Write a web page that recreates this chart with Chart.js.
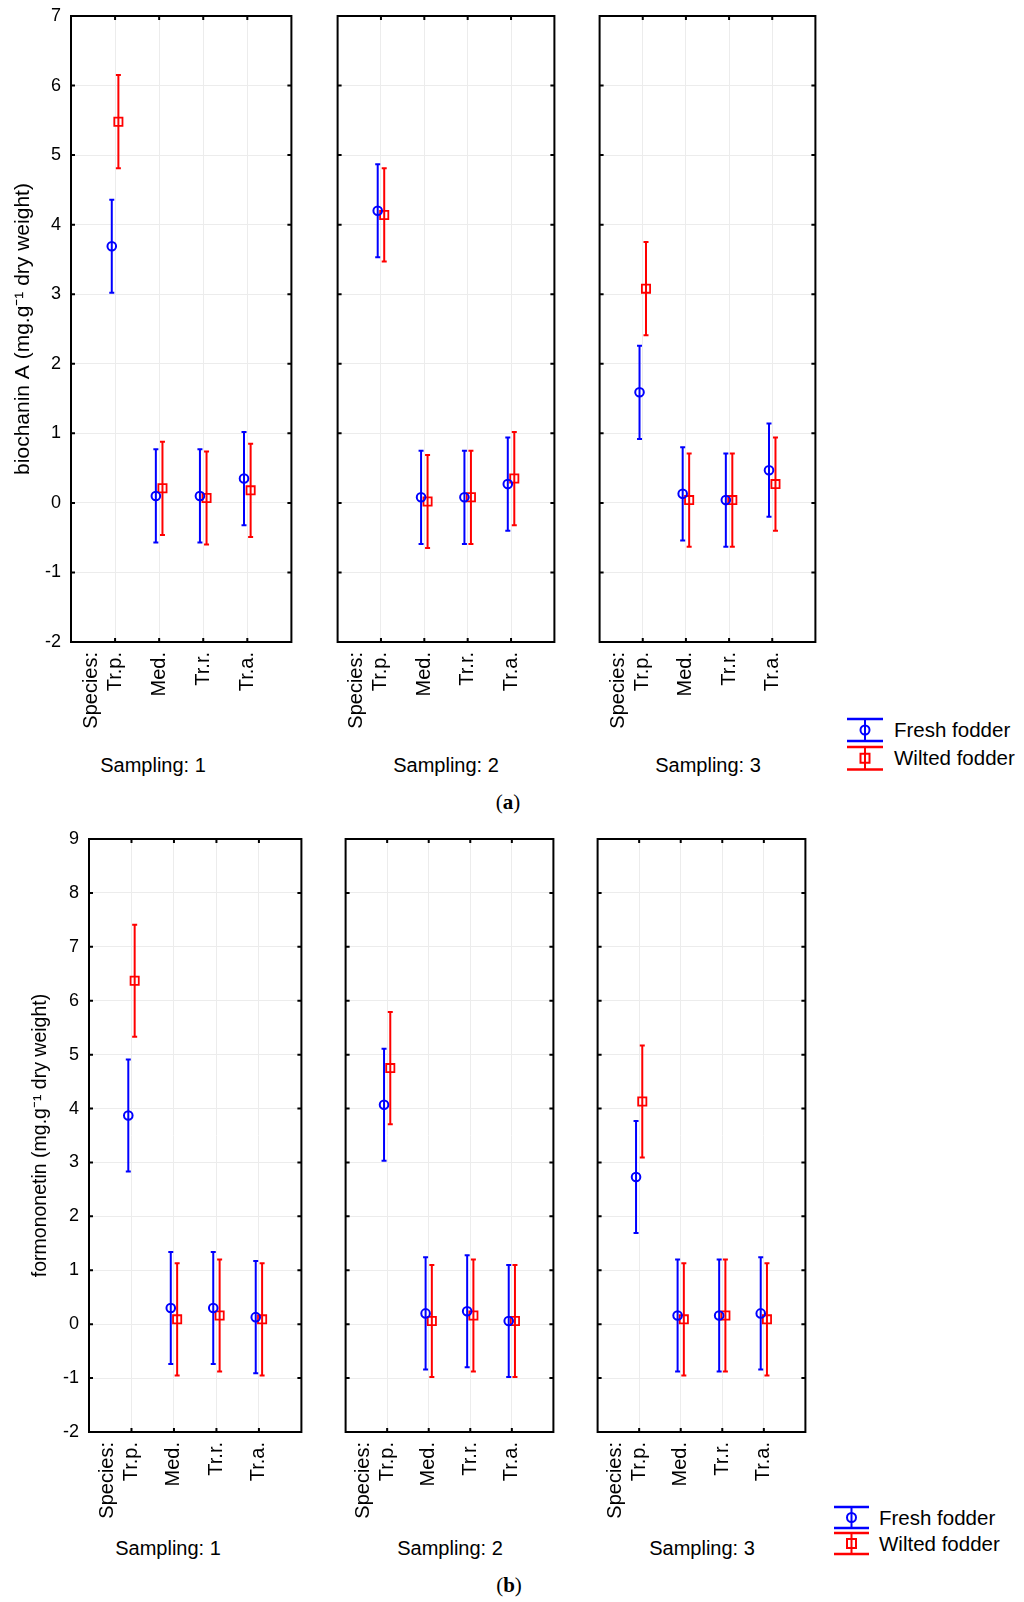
<!DOCTYPE html>
<html>
<head>
<meta charset="utf-8">
<script src="https://cdn.jsdelivr.net/npm/chart.js@4.4.0/dist/chart.umd.min.js"></script>
<style>
  body { margin: 0; background: #fff; }
  #fig { position: relative; width: 1024px; height: 1602px; background: #fff; overflow: hidden;
         font-family: "Liberation Sans", Arial, sans-serif; color: #000; }
  #fig canvas { position: absolute; }
  .lbl { position: absolute; font-size: 20px; white-space: nowrap; transform: translate(-50%, -50%); }
  .cap { position: absolute; font-family: "Liberation Serif", "Times New Roman", serif; font-size: 21px;
         white-space: nowrap; transform: translate(-50%, -50%); }
  .legtxt { position: absolute; font-size: 20.5px; line-height: 24px; white-space: nowrap; }
  .legico { position: absolute; }
</style>
</head>
<body>
<div id="fig"></div>
<script>
// categories
const species = ['Tr.p.', 'Med.', 'Tr.r.', 'Tr.a.'];
const speciesPos = [1, 2, 3, 4];
const speciesTitle = 'Species:';
const samplingNames = ['Sampling: 1', 'Sampling: 2', 'Sampling: 3'];
const seriesNames = ['Fresh fodder', 'Wilted fodder'];

// (a) biochanin A, means per species, one array per sampling
const bioFresh1 = [3.69, 0.10, 0.10, 0.35];
const bioWilted1 = [5.48, 0.21, 0.07, 0.18];
const bioFresh2 = [4.20, 0.08, 0.08, 0.27];
const bioWilted2 = [4.14, 0.02, 0.08, 0.35];
const bioFresh3 = [1.59, 0.13, 0.04, 0.47];
const bioWilted3 = [3.08, 0.04, 0.04, 0.27];
const bioCI = 0.67;   // half width of the bars
const bioRange = [-2, 7];

// (b) formononetin
const fmnFresh1 = [3.87, 0.30, 0.30, 0.13];
const fmnWilted1 = [6.37, 0.09, 0.16, 0.09];
const fmnFresh2 = [4.07, 0.20, 0.24, 0.06];
const fmnWilted2 = [4.75, 0.06, 0.16, 0.06];
const fmnFresh3 = [2.73, 0.16, 0.16, 0.20];
const fmnWilted3 = [4.13, 0.09, 0.16, 0.09];
const fmnCI = 1.04;
const fmnRange = [-2, 9];

const BLUE = '#0000ff';
const RED = '#ff0000';
const GRID = '#ececec';
const DODGE = 0.075;
const PAD_TOP = 24, PAD_RIGHT = 3, X_AXIS_H = 92;
const FONT = '"Liberation Sans", Arial, sans-serif';

Chart.defaults.font.family = FONT;
Chart.defaults.color = '#000';

const fig = document.getElementById('fig');

// box round the plot with short inward ticks, plus the "Species:" caption
const framePlugin = {
  id: 'frame',
  afterDraw(chart) {
    const {ctx, chartArea: a, scales: {x, y}} = chart;
    ctx.save();
    ctx.strokeStyle = '#000';
    ctx.lineWidth = 2;
    ctx.strokeRect(a.left, a.top, a.right - a.left, a.bottom - a.top);
    ctx.beginPath();
    x.ticks.forEach(t => {
      const px = x.getPixelForValue(t.value);
      ctx.moveTo(px, a.top); ctx.lineTo(px, a.top + 4);
      ctx.moveTo(px, a.bottom); ctx.lineTo(px, a.bottom - 4);
    });
    y.ticks.forEach(t => {
      const py = y.getPixelForValue(t.value);
      ctx.moveTo(a.left, py); ctx.lineTo(a.left + 4, py);
      ctx.moveTo(a.right, py); ctx.lineTo(a.right - 4, py);
    });
    ctx.stroke();

    // one line left of the first species label
    ctx.translate(x.getPixelForValue(speciesPos[0]) - 24, a.bottom + 10);
    ctx.rotate(-Math.PI / 2);
    ctx.font = '20px ' + FONT;
    ctx.fillStyle = '#000';
    ctx.textAlign = 'right';
    ctx.textBaseline = 'middle';
    ctx.fillText(speciesTitle, 0, 0);
    ctx.restore();
  }
};

function barPoints(means, ci, dx) {
  const pts = [];
  means.forEach((m, i) => {
    const x = speciesPos[i] + dx;
    pts.push({x: x, y: m - ci}, {x: x, y: m + ci}, {x: x, y: null});
  });
  return pts;
}

function makePanel(p) {
  const yW = p.first ? p.left : 3;
  const cv = document.createElement('canvas');
  cv.width = yW + (p.right - p.left) + PAD_RIGHT;
  cv.height = PAD_TOP + (p.bottom - p.top) + X_AXIS_H;
  cv.style.left = (p.left - yW) + 'px';
  cv.style.top = (p.top - PAD_TOP) + 'px';
  fig.appendChild(cv);

  new Chart(cv.getContext('2d'), {
    type: 'scatter',
    data: {
      datasets: [
        {
          label: seriesNames[0],
          data: p.fresh.map((m, i) => ({x: speciesPos[i] - DODGE, y: m})),
          pointStyle: 'circle', pointRadius: 4.3, pointBorderWidth: 2,
          pointBorderColor: BLUE, pointBackgroundColor: 'rgba(0,0,0,0)', order: 0
        },
        {
          label: seriesNames[1],
          data: p.wilted.map((m, i) => ({x: speciesPos[i] + DODGE, y: m})),
          pointStyle: 'rect', pointRadius: 5.8, pointBorderWidth: 1.8,
          pointBorderColor: RED, pointBackgroundColor: 'rgba(0,0,0,0)', order: 1
        },
        {
          type: 'line',
          data: barPoints(p.fresh, p.ci, -DODGE),
          borderColor: BLUE, borderWidth: 2, spanGaps: false, fill: false,
          pointStyle: 'line', pointRadius: 2.5, pointBorderWidth: 2, pointBorderColor: BLUE, order: 2
        },
        {
          type: 'line',
          data: barPoints(p.wilted, p.ci, DODGE),
          borderColor: RED, borderWidth: 2, spanGaps: false, fill: false,
          pointStyle: 'line', pointRadius: 2.5, pointBorderWidth: 2, pointBorderColor: RED, order: 3
        }
      ]
    },
    options: {
      responsive: false,
      animation: false,
      events: [],
      layout: { padding: { top: PAD_TOP, right: PAD_RIGHT, left: 0, bottom: 0 } },
      plugins: { legend: { display: false }, tooltip: { enabled: false } },
      scales: {
        x: {
          type: 'linear', min: 0, max: 5,
          afterBuildTicks: s => { s.ticks = speciesPos.map(v => ({value: v})); },
          afterFit: s => { s.height = X_AXIS_H; },
          grid: { color: GRID, drawTicks: false },
          border: { display: false },
          ticks: {
            minRotation: 90, maxRotation: 90, padding: 10,
            font: { size: 20 },
            callback: (v, i) => species[i]
          }
        },
        y: {
          min: p.range[0], max: p.range[1],
          afterFit: s => { s.width = yW; },
          grid: { color: GRID, drawTicks: false },
          border: { display: false },
          ticks: { stepSize: 1, display: p.first, padding: 10, font: { size: 18 } },
          title: {
            display: p.first, text: p.yTitle,
            font: { size: p.titleSize }, padding: { top: p.titlePad || 0, bottom: 0 }
          }
        }
      }
    },
    plugins: [framePlugin]
  });
}

// top row (a)
const topCols = [[71, 296], [333, 559], [595, 820]];
const topFresh = [bioFresh1, bioFresh2, bioFresh3];
const topWilted = [bioWilted1, bioWilted2, bioWilted3];
topCols.forEach((c, k) => makePanel({
  left: c[0], right: c[1], top: 16, bottom: 642, first: k === 0,
  fresh: topFresh[k], wilted: topWilted[k], ci: bioCI, range: bioRange,
  yTitle: 'biochanin A (mg.g\u207B\u00B9 dry weight)', titleSize: 21, titlePad: 11
}));

// bottom row (b)
const botCols = [[89, 306], [341, 558], [593, 810]];
const botFresh = [fmnFresh1, fmnFresh2, fmnFresh3];
const botWilted = [fmnWilted1, fmnWilted2, fmnWilted3];
botCols.forEach((c, k) => makePanel({
  left: c[0], right: c[1], top: 839, bottom: 1432, first: k === 0,
  fresh: botFresh[k], wilted: botWilted[k], ci: fmnCI, range: fmnRange,
  yTitle: 'formononetin (mg.g\u207B\u00B9 dry weight)', titleSize: 19.5, titlePad: 29
}));

function addText(cls, html, x, y) {
  const d = document.createElement('div');
  d.className = cls;
  d.innerHTML = html;
  d.style.left = x + 'px';
  d.style.top = y + 'px';
  fig.appendChild(d);
}

[153, 446, 708].forEach((x, k) => addText('lbl', samplingNames[k], x, 765));
[168, 450, 702].forEach((x, k) => addText('lbl', samplingNames[k], x, 1548));
addText('cap', '(<b>a</b>)', 508, 802);
addText('cap', '(<b>b</b>)', 509, 1585);

// legend: error bar icon + name
function legendRow(x, y, w, h, color, marker, name, textX) {
  const mid = h / 2;
  const cx = w / 2;
  const mk = marker === 'circle'
    ? `<circle cx="${cx}" cy="${mid}" r="4.5" fill="none" stroke="${color}" stroke-width="2"/>`
    : `<rect x="${cx - 4.5}" y="${mid - 4.5}" width="9" height="9" fill="none" stroke="${color}" stroke-width="2"/>`;
  const svg = `<svg width="${w}" height="${h + 4}" viewBox="0 -2 ${w} ${h + 4}">
    <line x1="0" y1="0" x2="${w}" y2="0" stroke="${color}" stroke-width="2.5"/>
    <line x1="0" y1="${h}" x2="${w}" y2="${h}" stroke="${color}" stroke-width="2.5"/>
    <line x1="${cx}" y1="0" x2="${cx}" y2="${h}" stroke="${color}" stroke-width="2"/>${mk}</svg>`;
  addText('legico', svg, x, y - 2);
  addText('legtxt', name, textX, y + mid - 12);
}
legendRow(847, 719, 36, 22, BLUE, 'circle', seriesNames[0], 894);
legendRow(847, 747, 36, 22.5, RED, 'rect', seriesNames[1], 894);
legendRow(834, 1507, 35, 21, BLUE, 'circle', seriesNames[0], 879);
legendRow(834, 1533, 35, 21, RED, 'rect', seriesNames[1], 879);
</script>
</body>
</html>
